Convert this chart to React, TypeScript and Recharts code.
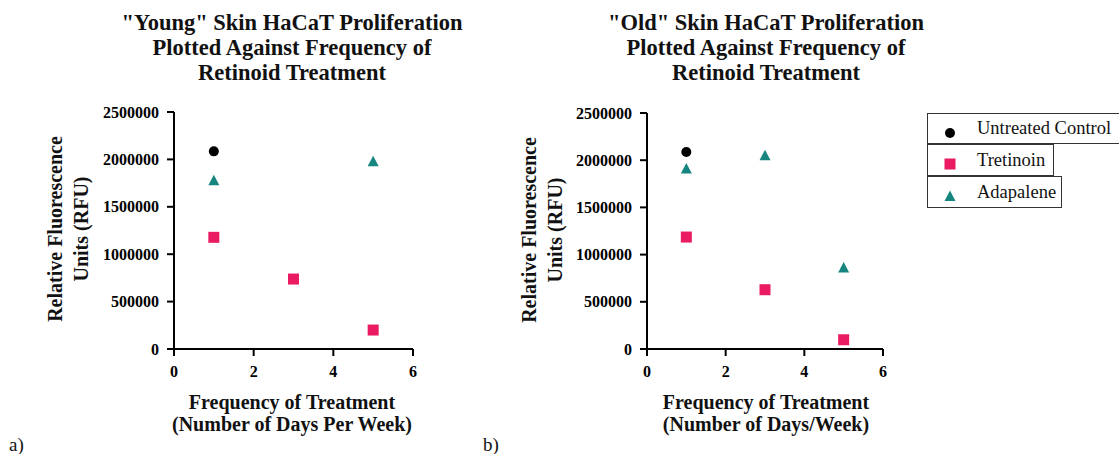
import React from "react";
import { ScatterChart, Scatter, XAxis, YAxis } from "recharts";

const dayTicks = [0, 2, 4, 6];
const rfuTicks = [0, 500000, 1000000, 1500000, 2000000, 2500000];

const youngControlDays = [1];
const youngControlRfu = [2085000];
const youngTretinoinDays = [1, 3, 5];
const youngTretinoinRfu = [1178000, 738000, 200000];
const youngAdapaleneDays = [1, 5];
const youngAdapaleneRfu = [1775000, 1976000];

const oldControlDays = [1];
const oldControlRfu = [2087000];
const oldTretinoinDays = [1, 3, 5];
const oldTretinoinRfu = [1186000, 628000, 98000];
const oldAdapaleneDays = [1, 3, 5];
const oldAdapaleneRfu = [1907000, 2048000, 858000];

const seriesNames = ["Untreated Control", "Tretinoin", "Adapalene"];
const seriesColors = ["#000000", "#EA1A63", "#17857F"];

const FONT = "'Liberation Serif', 'Times New Roman', serif";

const zip = (xs: number[], ys: number[]) => xs.map((x, i) => ({ x, y: ys[i] }));

const CircleShape = (p: any) => <circle cx={p.cx} cy={p.cy} r={5} fill={seriesColors[0]} />;
const SquareShape = (p: any) => (
  <rect x={p.cx - 5.5} y={p.cy - 5.5} width={11} height={11} fill={seriesColors[1]} />
);
const TriangleShape = (p: any) => (
  <polygon
    points={`${p.cx},${p.cy - 6} ${p.cx + 5.5},${p.cy + 4.5} ${p.cx - 5.5},${p.cy + 4.5}`}
    fill={seriesColors[2]}
  />
);

const tickStyle = { fill: "#000", fontSize: 16, fontWeight: 700, fontFamily: FONT };

function Panel(props: {
  left: number;
  width: number;
  yAxisWidth: number;
  top: number;
  right: number;
  control: { x: number; y: number }[];
  tretinoin: { x: number; y: number }[];
  adapalene: { x: number; y: number }[];
}) {
  const { left, width, yAxisWidth, top, right } = props;
  return (
    <div style={{ position: "absolute", left, top: 0 }}>
      <ScatterChart
        width={width}
        height={454}
        margin={{ top, right, bottom: 75, left: 0 }}
      >
        <XAxis
          type="number"
          dataKey="x"
          domain={[0, 6]}
          ticks={dayTicks}
          height={30}
          axisLine={{ stroke: "#000", strokeWidth: 2 }}
          tickLine={{ stroke: "#000", strokeWidth: 2 }}
          tickSize={7}
          tickMargin={10}
          tick={tickStyle}
        />
        <YAxis
          type="number"
          dataKey="y"
          domain={[0, 2500000]}
          ticks={rfuTicks}
          width={yAxisWidth}
          axisLine={{ stroke: "#000", strokeWidth: 2 }}
          tickLine={{ stroke: "#000", strokeWidth: 2 }}
          tickSize={7}
          tickMargin={8}
          tick={tickStyle}
        />
        <Scatter name={seriesNames[0]} data={props.control} shape={CircleShape} isAnimationActive={false} />
        <Scatter name={seriesNames[1]} data={props.tretinoin} shape={SquareShape} isAnimationActive={false} />
        <Scatter name={seriesNames[2]} data={props.adapalene} shape={TriangleShape} isAnimationActive={false} />
      </ScatterChart>
    </div>
  );
}

function TextLines(props: { lines: string[]; cx: number; top: number; size: number; lh: number; bold?: boolean }) {
  return (
    <div
      style={{
        position: "absolute",
        left: props.cx - 250,
        top: props.top,
        width: 500,
        textAlign: "center",
        fontFamily: FONT,
        fontSize: props.size,
        lineHeight: props.lh + "px",
        fontWeight: props.bold === false ? 400 : 700,
        color: "#111",
        whiteSpace: "nowrap",
      }}
    >
      {props.lines.map((l, i) => (
        <div key={i}>{l}</div>
      ))}
    </div>
  );
}

function YLabel(props: { cx: number; cy: number }) {
  return (
    <div
      style={{
        position: "absolute",
        left: props.cx - 150,
        top: props.cy - 26,
        width: 300,
        height: 52,
        textAlign: "center",
        fontFamily: FONT,
        fontSize: 20,
        lineHeight: "26px",
        fontWeight: 700,
        color: "#111",
        whiteSpace: "nowrap",
        transform: "rotate(-90deg)",
        transformOrigin: "center center",
      }}
    >
      <div>Relative Fluorescence</div>
      <div>Units (RFU)</div>
    </div>
  );
}

const legendMarkers = [
  <svg width={12} height={12} key="c"><circle cx={6} cy={6} r={5} fill={seriesColors[0]} /></svg>,
  <svg width={12} height={12} key="s"><rect x={0.5} y={0.5} width={11} height={11} fill={seriesColors[1]} /></svg>,
  <svg width={12} height={12} key="t"><polygon points="6,0.5 11.5,11 0.5,11" fill={seriesColors[2]} /></svg>,
];
const legendBoxes = [
  { top: 113, height: 31, width: 200 },
  { top: 144, height: 32, width: 127 },
  { top: 176, height: 32, width: 135 },
];

export default function App() {
  return (
    <div style={{ position: "relative", width: 1119, height: 454, background: "#fff", overflow: "hidden" }}>
      <style>{`body{margin:0}`}</style>
      <Panel
        left={0}
        width={480}
        yAxisWidth={174}
        top={112}
        right={67}
        control={zip(youngControlDays, youngControlRfu)}
        tretinoin={zip(youngTretinoinDays, youngTretinoinRfu)}
        adapalene={zip(youngAdapaleneDays, youngAdapaleneRfu)}
      />
      <Panel
        left={480}
        width={420}
        yAxisWidth={167}
        top={113}
        right={17}
        control={zip(oldControlDays, oldControlRfu)}
        tretinoin={zip(oldTretinoinDays, oldTretinoinRfu)}
        adapalene={zip(oldAdapaleneDays, oldAdapaleneRfu)}
      />
      <TextLines
        lines={['"Young" Skin HaCaT Proliferation', "Plotted Against Frequency of", "Retinoid Treatment"]}
        cx={292}
        top={10}
        size={22.5}
        lh={25}
      />
      <TextLines
        lines={['"Old" Skin HaCaT Proliferation', "Plotted Against Frequency of", "Retinoid Treatment"]}
        cx={766}
        top={10}
        size={22.5}
        lh={25}
      />
      <YLabel cx={68} cy={229} />
      <YLabel cx={542} cy={230} />
      <TextLines
        lines={["Frequency of Treatment", "(Number of Days Per Week)"]}
        cx={292}
        top={391}
        size={20}
        lh={22}
      />
      <TextLines
        lines={["Frequency of Treatment", "(Number of Days/Week)"]}
        cx={766}
        top={391}
        size={20}
        lh={22}
      />
      <div style={{ position: "absolute", left: 9, top: 436, lineHeight: "18px", fontFamily: FONT, fontSize: 19, fontWeight: 400, color: "#111" }}>a)</div>
      <div style={{ position: "absolute", left: 483, top: 436, lineHeight: "18px", fontFamily: FONT, fontSize: 19, fontWeight: 400, color: "#111" }}>b)</div>
      {legendBoxes.map((b, i) => (
        <div
          key={i}
          style={{
            position: "absolute",
            left: 927,
            top: b.top,
            width: b.width,
            height: b.height,
            border: "1px solid #333",
            boxSizing: "border-box",
            fontFamily: FONT,
            fontSize: 18.5,
            color: "#111",
            whiteSpace: "nowrap",
          }}
        >
          <div style={{ position: "absolute", left: 16, top: (b.height - 2) / 2 - 6, height: 12 }}>{legendMarkers[i]}</div>
          <div style={{ position: "absolute", left: 49, top: 0, lineHeight: b.height - 2 + "px" }}>{seriesNames[i]}</div>
        </div>
      ))}
    </div>
  );
}
